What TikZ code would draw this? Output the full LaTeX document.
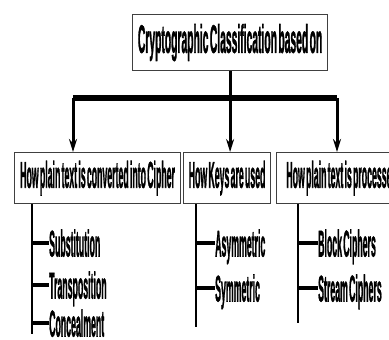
\documentclass[tikz,border=0pt]{standalone}
\usepackage{fontspec}
\setmainfont{Liberation Sans}[WordSpace=0.5,FakeBold=2]
\usepackage{graphicx}
\usepackage{tikz}
\usetikzlibrary{arrows.meta}
\newcommand{\tallword}[1]{\scalebox{0.73}[3.1]{\bfseries #1}}
\newcommand{\tallhead}[1]{\scalebox{0.86}[3.3]{\bfseries #1}}

\begin{document}
\begin{tikzpicture}[x=1pt,y=-1pt,
  box/.style={draw=black!75,line width=1.2pt,inner xsep=3pt,inner ysep=0pt,anchor=north west,font=\fontsize{12}{12}\selectfont},
  leaf/.style={anchor=west,inner sep=0pt,text height=27pt,text depth=0pt,font=\fontsize{12}{12}\selectfont},
  bar/.style={line width=6pt},
  feed/.style={line width=3pt,-{Stealth[length=13pt,width=8pt]}},
  twig/.style={line width=2pt},
  stub/.style={line width=3.5pt}]
\useasboundingbox (0,0) rectangle (389,340);
\clip (0,0) rectangle (389,340);
\node[box,minimum width=195pt,minimum height=56pt] (title) at (132,14) {\tallhead{Cryptographic Classification based on}};
\node[box,minimum width=166pt,minimum height=51pt] (conv) at (14,152) {\tallword{How plain text is converted into Cipher}};
\node[box,minimum width=87pt,minimum height=51pt] (keys) at (183,152) {\tallword{How Keys are used}};
\node[box,minimum width=130pt,minimum height=51pt,align=left] (proc) at (276,152) {\tallword{How plain text is processed}};
\coordinate (barL) at (73,98);
\coordinate (barR) at (337,98);
\draw[bar] (barL) -- (barR);
\draw[feed] (title.south) -- (title.south |- keys.north);
\draw[feed] (barL) -- (barL |- conv.north);
\draw[feed] (barR) -- (barR |- proc.north);
\coordinate (convEnd) at (32,334);
\coordinate (keysEnd) at (196,327);
\coordinate (procEnd) at (298,323);
\draw[twig] (convEnd |- conv.south) -- (convEnd);
\draw[twig] (keysEnd |- keys.south) -- (keysEnd);
\draw[twig] (procEnd |- proc.south) -- (procEnd);
\node[leaf] (subs) at (49,243) {\tallword{Substitution}};
\node[leaf] (trans) at (49,285) {\tallword{Transposition}};
\node[leaf] (conc) at (49,323) {\tallword{Concealment}};
\node[leaf] (asym) at (215,243) {\tallword{Asymmetric}};
\node[leaf] (sym) at (215,288) {\tallword{Symmetric}};
\node[leaf] (block) at (318,243) {\tallword{Block Ciphers}};
\node[leaf] (stream) at (318,288) {\tallword{Stream Ciphers}};
\draw[stub] (subs.west -| convEnd) -- (subs.west);
\draw[stub] (trans.west -| convEnd) -- (trans.west);
\draw[stub] (conc.west -| convEnd) -- (conc.west);
\draw[stub] (asym.west -| keysEnd) -- (asym.west);
\draw[stub] (sym.west -| keysEnd) -- (sym.west);
\draw[stub] (block.west -| procEnd) -- (block.west);
\draw[stub] (stream.west -| procEnd) -- (stream.west);
\end{tikzpicture}
\end{document}
